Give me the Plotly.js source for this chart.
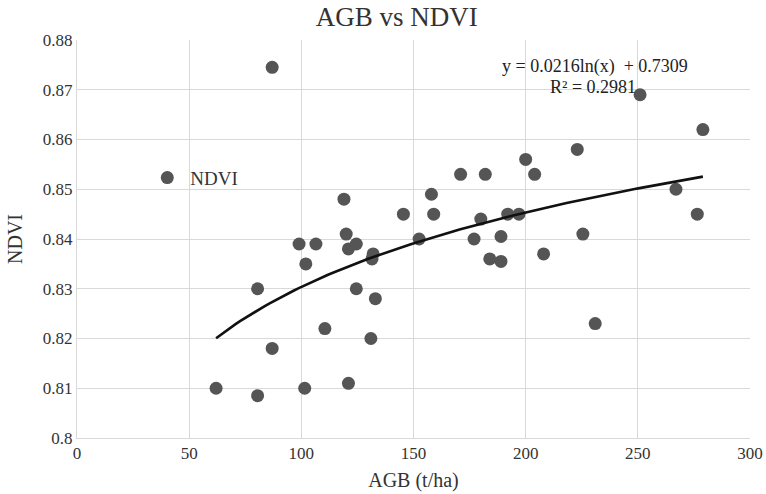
<!DOCTYPE html>
<html>
<head>
<meta charset="utf-8">
<script src="https://cdn.plot.ly/plotly-3.0.1.min.js"></script>
<style>html,body{margin:0;padding:0;background:#fff;}#chart{width:766px;height:494px;}</style>
</head>
<body>
<div id="chart"></div>
<script>
// Data
const agb = [87, 62, 80.5, 80.5, 87, 99, 102, 101.5, 106.5, 110.5, 119, 120, 121, 121, 124.5, 124.5, 131, 131.5, 132, 133, 145.5, 152.5, 158, 159, 171, 177, 180, 182, 184, 189, 189, 192, 197, 200, 204, 208, 223, 225.5, 231, 251, 267, 276.5, 279];
const ndvi = [0.8745, 0.810, 0.830, 0.8085, 0.818, 0.839, 0.835, 0.810, 0.839, 0.822, 0.848, 0.841, 0.838, 0.811, 0.839, 0.830, 0.820, 0.836, 0.837, 0.828, 0.845, 0.840, 0.849, 0.845, 0.853, 0.840, 0.844, 0.853, 0.836, 0.8355, 0.8405, 0.845, 0.845, 0.856, 0.853, 0.837, 0.858, 0.841, 0.823, 0.869, 0.850, 0.845, 0.862];

// Logarithmic trendline coefficients shown on the chart
const trendA = 0.0216;
const trendB = 0.7309;
const trendR2 = 0.2981;

const xTickVals = [0, 50, 100, 150, 200, 250, 300];
const xTickText = ["0", "50", "100", "150", "200", "250", "300"];
const yTickVals = [0.80, 0.81, 0.82, 0.83, 0.84, 0.85, 0.86, 0.87, 0.88];
const yTickText = ["0.8", "0.81", "0.82", "0.83", "0.84", "0.85", "0.86", "0.87", "0.88"];

// Trendline spans the data range
const xMin = Math.min(...agb), xMax = Math.max(...agb);
const trendX = [], trendY = [];
for (let i = 0; i <= 100; i++) {
  const x = xMin + (xMax - xMin) * i / 100;
  trendX.push(x);
  trendY.push(trendA * Math.log(x) + trendB);
}

const serif = "Liberation Serif, Times New Roman, serif";

const traces = [
  {
    x: agb, y: ndvi, type: "scatter", mode: "markers", name: "NDVI",
    marker: {color: "#555555", size: 13}
  },
  {
    x: trendX, y: trendY, type: "scatter", mode: "lines", name: "Log. (NDVI)",
    line: {color: "#111111", width: 2.6}, showlegend: false, hoverinfo: "skip"
  }
];

const layout = {
  width: 766, height: 494,
  margin: {l: 77, r: 16, t: 40, b: 56},
  paper_bgcolor: "#ffffff", plot_bgcolor: "#ffffff",
  font: {family: serif, color: "#333333", size: 17},
  title: {text: "AGB vs NDVI", font: {family: serif, size: 27, color: "#333333"},
          x: 0.475, xref: "paper", xanchor: "center", y: 0.966, yref: "container", yanchor: "middle"},
  xaxis: {
    range: [0, 300], tickvals: xTickVals, ticktext: xTickText,
    showgrid: true, gridcolor: "#d9d9d9", gridwidth: 1, zeroline: false,
    showline: true, linecolor: "#d9d9d9", linewidth: 1, ticks: "",
    tickfont: {family: serif, size: 17, color: "#333333"},
    title: {text: "AGB (t/ha)", font: {family: serif, size: 20, color: "#333333"}, standoff: 10}
  },
  yaxis: {
    range: [0.8, 0.88], tickvals: yTickVals, ticktext: yTickText,
    showgrid: true, gridcolor: "#d9d9d9", gridwidth: 1, zeroline: false,
    showline: true, linecolor: "#d9d9d9", linewidth: 1, ticks: "",
    tickfont: {family: serif, size: 17, color: "#333333"},
    title: {text: "NDVI", font: {family: serif, size: 20, color: "#333333"}, standoff: 14}
  },
  showlegend: true,
  legend: {x: 0.1, y: 0.654, xanchor: "left", yanchor: "middle", bgcolor: "rgba(0,0,0,0)",
           itemwidth: 36, font: {family: serif, size: 19, color: "#333333"}},
  annotations: [
    {text: "y = 0.0216ln(x)  + 0.7309", x: 231, y: 0.8746, xref: "x", yref: "y",
     showarrow: false, font: {family: serif, size: 18, color: "#222222"}, xanchor: "center", yanchor: "middle"},
    {text: "R² = " + trendR2, x: 230, y: 0.8706, xref: "x", yref: "y",
     showarrow: false, font: {family: serif, size: 18, color: "#222222"}, xanchor: "center", yanchor: "middle"}
  ]
};

Plotly.newPlot("chart", traces, layout, {displayModeBar: false, staticPlot: true});
</script>
</body>
</html>
